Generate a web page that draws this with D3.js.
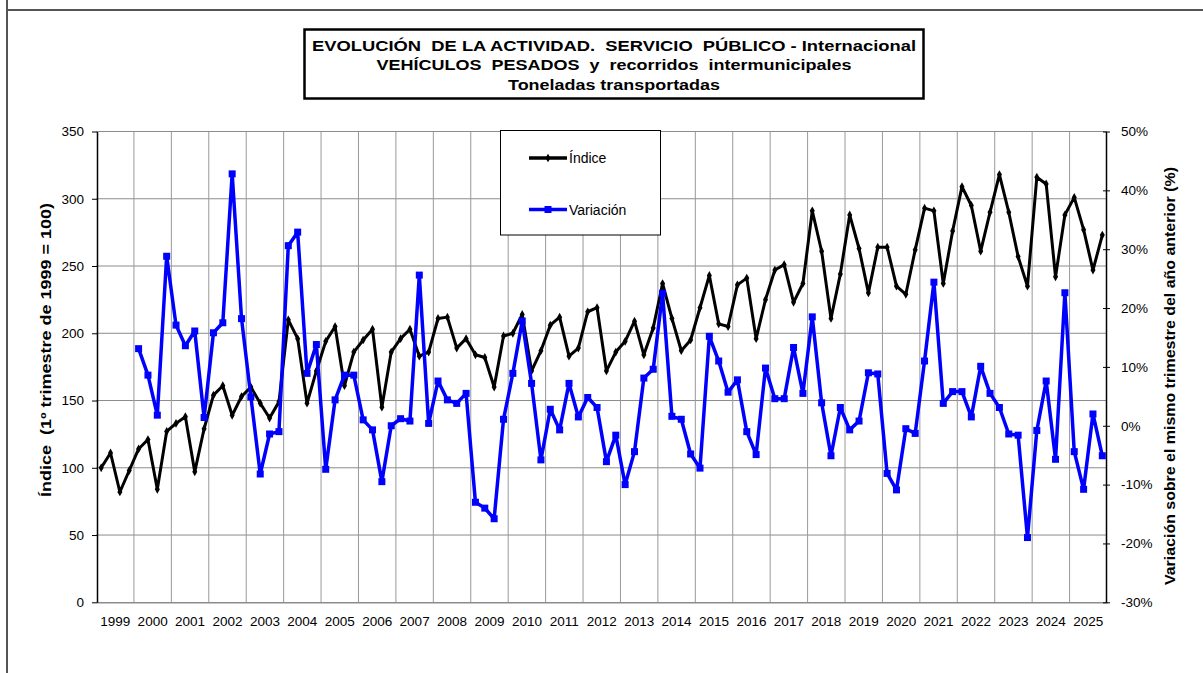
<!DOCTYPE html>
<html>
<head>
<meta charset="utf-8">
<script src="https://cdn.jsdelivr.net/npm/d3@7"></script>
<style>
  body { margin: 0; background: #fff; }
  svg text { font-family: "Liberation Sans", Arial, sans-serif; fill: #000; }
</style>
</head>
<body>
<svg id="chart" width="1203" height="673"></svg>
<script>
// years on the category axis (4 quarters each)
const years = [1999, 2000, 2001, 2002, 2003, 2004, 2005, 2006, 2007, 2008, 2009, 2010, 2011, 2012,
  2013, 2014, 2015, 2016, 2017, 2018, 2019, 2020, 2021, 2022, 2023, 2024, 2025]

// Índice (1º trimestre de 1999 = 100), one value per quarter 1999T1..2025T4
const indice = [
  100, 111, 82, 98,
  114, 121, 84, 127,
  133, 138, 97, 129,
  154, 161, 139, 153,
  160, 148, 137, 149,
  210, 196, 148, 172,
  194, 205, 161, 186,
  195, 203, 145, 186,
  196, 203, 183, 186,
  211, 212, 189, 196,
  184, 182, 160, 198,
  200, 214, 172, 187,
  206, 212, 183, 189,
  216, 219, 172, 186,
  194, 209, 184, 204,
  237, 211, 187, 195,
  219, 243, 207, 205,
  236, 241, 196, 225,
  247, 251, 223, 237,
  291, 261, 211, 244,
  288, 263, 230, 264,
  264, 235, 229, 262,
  293, 291, 237, 276,
  309, 295, 261, 290,
  318, 290, 257, 235,
  316, 311, 242, 288,
  301, 277, 247, 273
]

// Variación sobre el mismo trimestre del año anterior (%), from 2000T1
const variacion = [
  13.1, 8.6, 1.8, 28.8,
  17.1, 13.6, 16.1, 1.4,
  15.8, 17.5, 42.8, 18.2,
  4.9, -8.2, -1.4, -1.0,
  30.6, 32.9, 8.9, 13.8,
  -7.4, 4.4, 8.6, 8.6,
  1.0, -0.7, -9.5, 0.0,
  1.2, 0.8, 25.6, 0.4,
  7.6, 4.4, 3.8, 5.5,
  -13.0, -14.0, -15.8, 1.1,
  8.9, 17.8, 7.2, -5.8,
  2.8, -0.7, 7.2, 1.5,
  4.8, 3.1, -6.1, -1.6,
  -10.0, -4.4, 8.1, 9.6,
  22.5, 1.6, 1.1, -4.8,
  -7.2, 15.2, 11.0, 5.7,
  7.8, -1.0, -4.9, 9.8,
  4.6, 4.6, 13.3, 5.5,
  18.5, 3.9, -5.1, 3.1,
  -0.7, 0.8, 9.0, 8.8,
  -8.1, -10.9, -0.5, -1.3,
  11.0, 24.4, 3.8, 5.8,
  5.8, 1.5, 10.1, 5.5,
  3.1, -1.4, -1.6, -19.0,
  -0.8, 7.6, -5.7, 22.6,
  -4.4, -10.8, 2.0, -5.1
]

const leftTicks = [0, 50, 100, 150, 200, 250, 300, 350]
const rightTicks = [-30, -20, -10, 0, 10, 20, 30, 40, 50]

const titleLines = [
  'EVOLUCIÓN  DE LA ACTIVIDAD.  SERVICIO  PÚBLICO - Internacional',
  'VEHÍCULOS  PESADOS  y  recorridos  intermunicipales',
  'Toneladas transportadas'
]

const quarters = years.flatMap(y => [1, 2, 3, 4].map(q => y + 'T' + q))
const indiceData = indice.map((v, i) => ({q: quarters[i], v: v}))
const variacionData = variacion.map((v, i) => ({q: quarters[i + 4], v: v}))

const plotLeft = 96.5, plotRight = 1107, plotTop = 131.5, plotBottom = 602.3

const svg = d3.select('#chart')

// outer frame fragments of the page
svg.append('line').attr('x1', 7).attr('x2', 1203).attr('y1', 10).attr('y2', 10)
  .attr('stroke', '#555').attr('stroke-width', 2)
svg.append('line').attr('x1', 7).attr('x2', 7).attr('y1', 0).attr('y2', 673)
  .attr('stroke', '#555').attr('stroke-width', 2)

const x = d3.scaleBand().domain(quarters).range([plotLeft, plotRight])
const xYear = d3.scaleBand().domain(years).range([plotLeft, plotRight])
const y = d3.scaleLinear().domain([0, 350]).range([plotBottom, plotTop])
const y2 = d3.scaleLinear().domain([-30, 50]).range([plotBottom, plotTop])
const cx = d => x(d.q) + x.bandwidth() / 2

// gridlines
svg.append('g').selectAll('line')
  .data(leftTicks.slice(1))
  .enter().append('line')
  .attr('x1', plotLeft).attr('x2', plotRight)
  .attr('y1', d => y(d)).attr('y2', d => y(d))
  .attr('stroke', '#8c8c8c').attr('stroke-width', 1)

svg.append('g').selectAll('line')
  .data(years.slice(1))
  .enter().append('line')
  .attr('x1', d => xYear(d)).attr('x2', d => xYear(d))
  .attr('y1', plotTop).attr('y2', plotBottom)
  .attr('stroke', '#999').attr('stroke-width', 1)

// bottom axis (years)
const xAxis = svg.append('g')
  .attr('transform', 'translate(0,' + plotBottom + ')')
  .call(d3.axisBottom(xYear).tickSize(0).tickPadding(14))
xAxis.select('.domain').attr('stroke', '#8c8c8c').attr('stroke-width', 1.5)
xAxis.selectAll('text').style('font-size', '13.5px').attr('font-family', null)

// left axis
const yAxis = svg.append('g')
  .attr('transform', 'translate(' + (plotLeft + 0.5) + ',0)')
  .call(d3.axisLeft(y).tickValues(leftTicks).tickSize(5).tickPadding(8).tickSizeOuter(0))
yAxis.select('.domain').attr('stroke', '#000').attr('stroke-width', 1.5)
yAxis.selectAll('line').attr('stroke', '#000')
yAxis.selectAll('text').style('font-size', '13.5px').attr('font-family', null)

// right axis
const y2Axis = svg.append('g')
  .attr('transform', 'translate(' + (plotRight - 1) + ',0)')
  .call(d3.axisRight(y2).tickValues(rightTicks).tickSize(4).tickPadding(11).tickSizeOuter(0)
    .tickFormat(d => d + '%'))
y2Axis.select('.domain').attr('stroke', '#000').attr('stroke-width', 1.5)
y2Axis.selectAll('.tick line').attr('x1', -3).attr('stroke', '#000')
y2Axis.selectAll('text').style('font-size', '13.5px').attr('font-family', null)

// axis titles
svg.append('text')
  .attr('transform', 'translate(51,350) rotate(-90)')
  .attr('text-anchor', 'middle')
  .attr('textLength', 294).attr('lengthAdjust', 'spacingAndGlyphs')
  .style('font-size', '15px').style('font-weight', 'bold').style('white-space', 'pre')
  .text('Índice  (1º trimestre de 1999 = 100)')

svg.append('text')
  .attr('transform', 'translate(1175,376) rotate(-90)')
  .attr('text-anchor', 'middle')
  .attr('textLength', 418).attr('lengthAdjust', 'spacingAndGlyphs')
  .style('font-size', '15px').style('font-weight', 'bold')
  .text('Variación sobre el mismo trimestre del año anterior (%)')

// lines
const lineIdx = d3.line().x(cx).y(d => y(d.v))
const lineVar = d3.line().x(cx).y(d => y2(d.v))

svg.append('path').datum(indiceData)
  .attr('d', lineIdx).attr('fill', 'none')
  .attr('stroke', '#000').attr('stroke-width', 3).attr('stroke-linejoin', 'round')
svg.append('g').selectAll('path')
  .data(indiceData)
  .enter().append('path')
  .attr('d', d3.symbol(d3.symbolDiamond, 22))
  .attr('transform', d => 'translate(' + cx(d) + ',' + y(d.v) + ')')
  .attr('fill', '#000')

svg.append('path').datum(variacionData)
  .attr('d', lineVar).attr('fill', 'none')
  .attr('stroke', '#0000ff').attr('stroke-width', 3.5).attr('stroke-linejoin', 'round')
svg.append('g').selectAll('rect')
  .data(variacionData)
  .enter().append('rect')
  .attr('x', d => cx(d) - 3.5).attr('y', d => y2(d.v) - 3.5)
  .attr('width', 7).attr('height', 7)
  .attr('fill', '#0000ff')

// legend
const legend = svg.append('g')
legend.append('rect')
  .attr('x', 500.5).attr('y', 130.5).attr('width', 160).attr('height', 104.5)
  .attr('fill', '#fff').attr('stroke', '#000').attr('stroke-width', 1)
const legendItems = [
  {name: 'Índice', color: '#000', y: 158, marker: 'diamond'},
  {name: 'Variación', color: '#0000ff', y: 209.5, marker: 'square'}
]
legendItems.forEach(it => {
  legend.append('line')
    .attr('x1', 529).attr('x2', 567).attr('y1', it.y).attr('y2', it.y)
    .attr('stroke', it.color).attr('stroke-width', 3.5)
  if (it.marker == 'square') {
    legend.append('rect').attr('x', 544.5).attr('y', it.y - 3.5)
      .attr('width', 7).attr('height', 7).attr('fill', it.color)
  } else {
    legend.append('path').attr('d', d3.symbol(d3.symbolDiamond, 22))
      .attr('transform', 'translate(548,' + it.y + ')').attr('fill', it.color)
  }
  legend.append('text')
    .attr('x', 569).attr('y', it.y + 5)
    .style('font-size', '14px')
    .text(it.name)
})

// title box
svg.append('rect')
  .attr('x', 304.5).attr('y', 29.5).attr('width', 619).attr('height', 69)
  .attr('fill', '#fff').attr('stroke', '#000').attr('stroke-width', 2.5)
const titleWidths = [604, 475, 212]
const titleBase = [50.5, 69.5, 90]
titleLines.forEach((t, i) => {
  svg.append('text')
    .attr('x', 614).attr('y', titleBase[i])
    .attr('text-anchor', 'middle')
    .attr('textLength', titleWidths[i]).attr('lengthAdjust', 'spacingAndGlyphs')
    .style('font-size', '15.5px').style('font-weight', 'bold').style('white-space', 'pre')
    .text(t)
})
</script>
</body>
</html>
